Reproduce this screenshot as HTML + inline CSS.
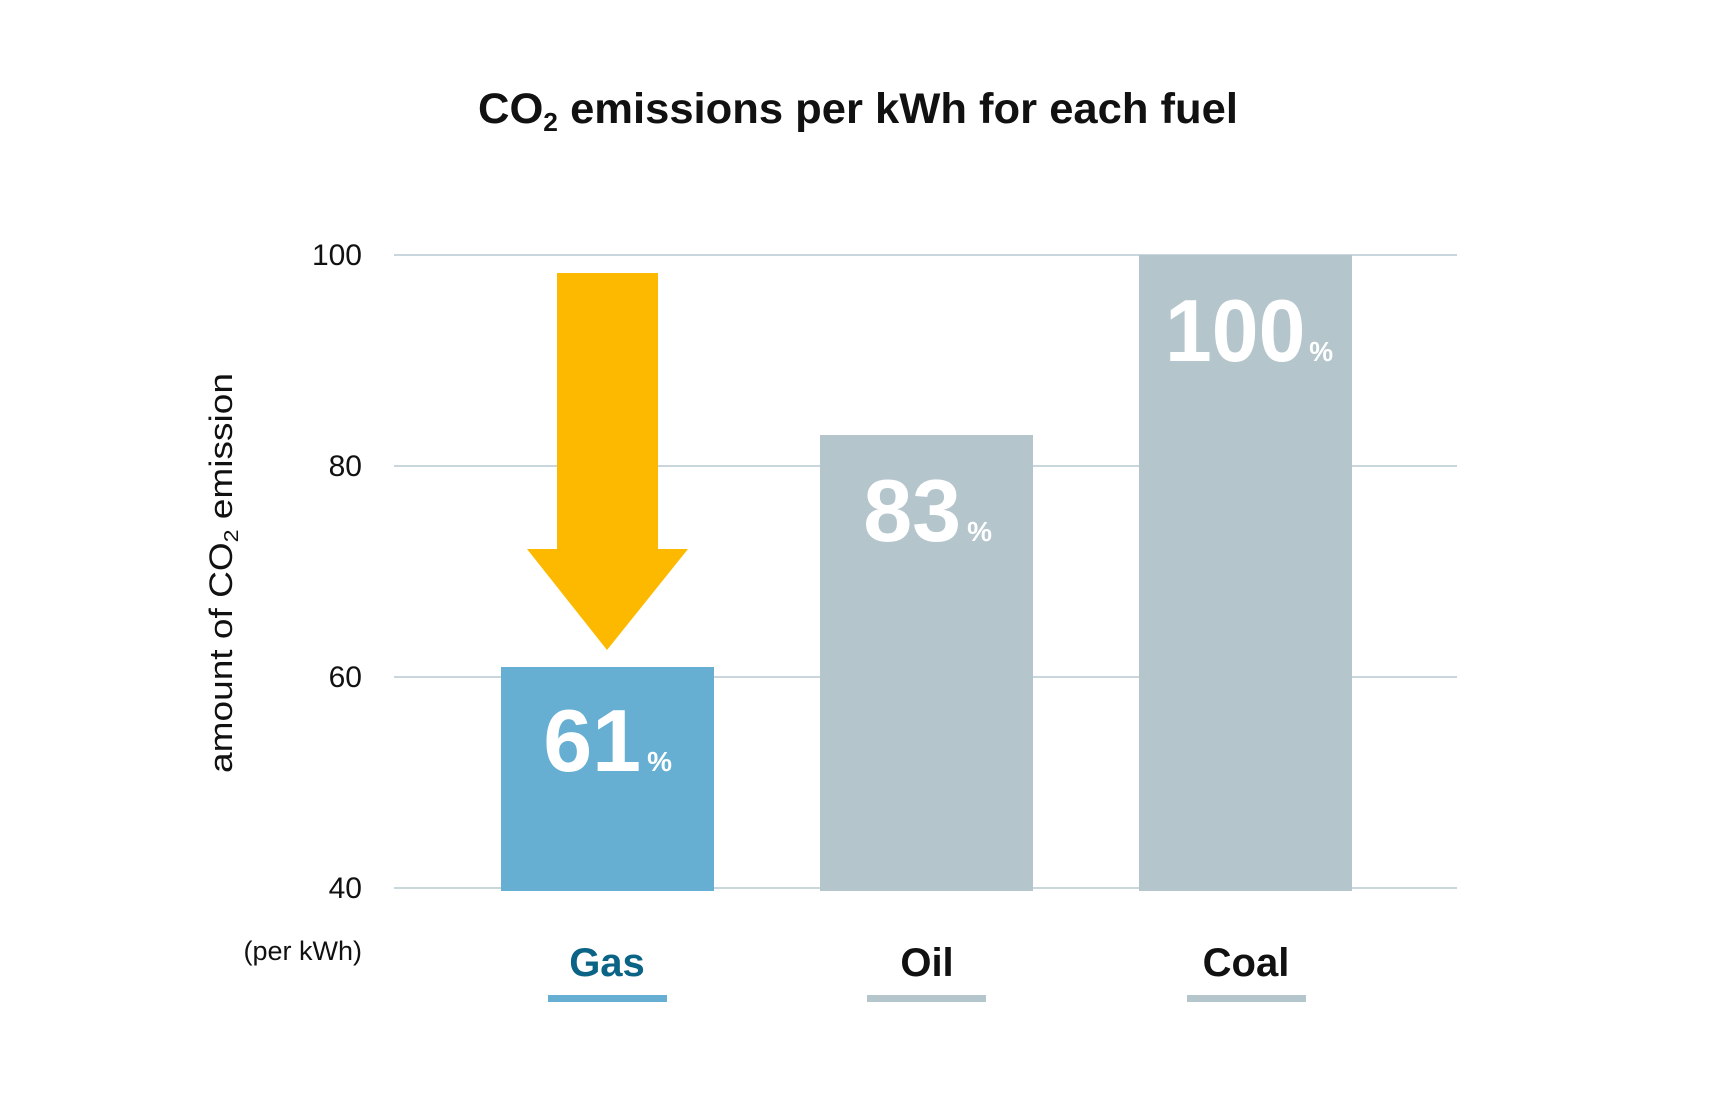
<!DOCTYPE html>
<html><head><meta charset="utf-8"><style>
html,body{margin:0;padding:0;background:#fff;}
body{width:1712px;height:1100px;position:relative;overflow:hidden;font-family:"Liberation Sans",sans-serif;}
</style></head><body>
<svg width="1712" height="1100" xmlns="http://www.w3.org/2000/svg" style="position:absolute;left:0;top:0">
<g font-family="Liberation Sans, sans-serif">
<text x="858" y="123" text-anchor="middle" font-size="43" font-weight="bold" fill="#111" textLength="760" lengthAdjust="spacingAndGlyphs">CO<tspan font-size="26" dy="8">2</tspan><tspan dy="-8"> emissions per kWh for each fuel</tspan></text>
<g stroke="#c9d7dc" stroke-width="2">
<line x1="394" y1="255" x2="1457" y2="255"/>
<line x1="394" y1="466" x2="1457" y2="466"/>
<line x1="394" y1="677" x2="1457" y2="677"/>
<line x1="394" y1="888" x2="1457" y2="888"/>
</g>
<g font-size="30" fill="#111" text-anchor="end">
<text x="362" y="265">100</text>
<text x="362" y="476">80</text>
<text x="362" y="687">60</text>
<text x="362" y="898">40</text>
<text x="362" y="960" font-size="27">(per kWh)</text>
</g>
<text transform="translate(232,573) rotate(-90)" text-anchor="middle" font-size="32" fill="#111" textLength="400" lengthAdjust="spacingAndGlyphs">amount of CO<tspan font-size="20" dy="6">2</tspan><tspan dy="-6"> emission</tspan></text>
<rect x="501" y="667" width="213" height="224" fill="#66afd3"/>
<rect x="820" y="435" width="213" height="456" fill="#b4c5cc"/>
<rect x="1139" y="255" width="213" height="636" fill="#b4c5cc"/>
<polygon points="557,273 658,273 658,549 688,549 607,650 527,549 557,549" fill="#fdb900"/>
<g fill="#fff" font-weight="bold">
<text x="672" y="771" text-anchor="end" font-size="88">61<tspan font-size="28" dx="6">%</tspan></text>
<text x="992" y="541" text-anchor="end" font-size="88">83<tspan font-size="28" dx="6">%</tspan></text>
<text x="1333" y="361" text-anchor="end" font-size="88" textLength="168" lengthAdjust="spacingAndGlyphs">100<tspan font-size="28" dx="4">%</tspan></text>
</g>
<g font-size="40" font-weight="bold" text-anchor="middle">
<text x="607" y="976" fill="#0b6385">Gas</text>
<text x="927" y="976" fill="#111">Oil</text>
<text x="1246" y="976" fill="#111">Coal</text>
</g>
<rect x="548" y="995" width="119" height="7" fill="#66afd3"/>
<rect x="867" y="995" width="119" height="7" fill="#b4c5cc"/>
<rect x="1187" y="995" width="119" height="7" fill="#b4c5cc"/>
</g>
</svg>
</body></html>
